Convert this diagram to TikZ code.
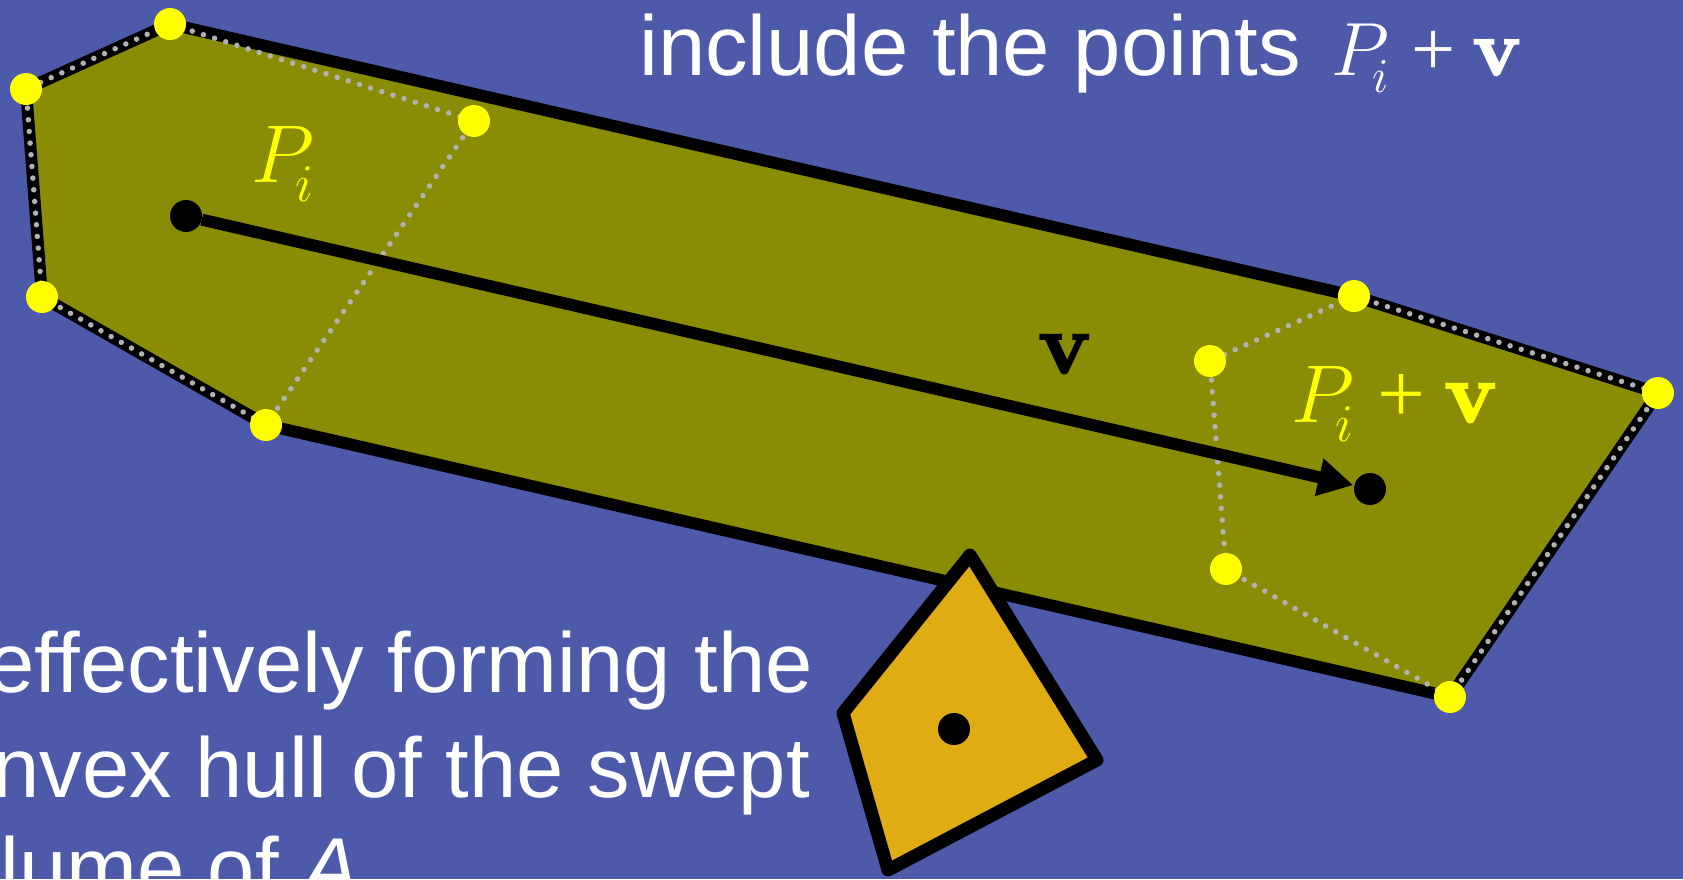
\RequirePackage{fix-cm}
\documentclass[tikz,border=0pt]{standalone}
\usepackage[no-math]{fontspec}
\usepackage{graphicx}
\setmainfont{Liberation Sans}
\newfontfamily\serifplus{Liberation Serif}
\newfontfamily\lmbold{lmroman10-bold.otf}[FakeBold=2.5]
\usetikzlibrary{arrows.meta}
\definecolor{bg}{RGB}{77,90,170}
\definecolor{hullfill}{RGB}{138,140,5}
\definecolor{kitefill}{RGB}{223,172,20}
\definecolor{dotgray}{RGB}{178,178,178}
\definecolor{ptyellow}{RGB}{255,255,0}
\newcommand{\boldv}{{\lmbold\fontsize{86}{90}\selectfont v}}
\newcommand{\Psub}{\mbox{\fontsize{82}{90}\selectfont$P$}\kern-18.5pt\raisebox{-19.5pt}{\fontsize{53}{60}\selectfont$i$}}
\newcommand{\Psubv}{\Psub\kern24pt{\serifplus\fontsize{85}{90}\selectfont+}\kern19pt\boldv}
\begin{document}
\begin{tikzpicture}[x=1pt,y=-1pt,
  hulledge/.style={draw=black, line width=12pt, line join=round, line cap=round},
  graydots/.style={draw=dotgray, line width=5.5pt, line cap=round, dash pattern=on 0pt off 11.7pt},
  vertex/.style={circle, fill=ptyellow, inner sep=0pt, minimum size=32pt},
  cdot/.style={circle, fill=black, inner sep=0pt, minimum size=32pt},
  bigfont/.style={font=\fontsize{85}{100}\selectfont, inner sep=0pt},
  whitetext/.style={bigfont, text=white},
  vecarrow/.style={line width=12pt, shorten >=1pt, -{Triangle[length=35pt,width=36pt]}},
  kiteshape/.style={fill=kitefill, draw=black, line width=13pt, line join=round}
]
\useasboundingbox (0,0) rectangle (1683,879);
\fill[bg] (0,0) rectangle (1683,879);
\clip (0,0) rectangle (1683,879);

% original polygon P
\coordinate (a1) at (170,24);
\coordinate (a2) at (474,121);
\coordinate (a3) at (266,425);
\coordinate (a4) at (42,297);
\coordinate (a5) at (26,89);
% translated polygon P+v
\coordinate (b1) at (1354,296);
\coordinate (b2) at (1658,393);
\coordinate (b3) at (1450,697);
\coordinate (b4) at (1226,569);
\coordinate (b5) at (1210,361);

% convex hull of swept volume
\fill[hullfill] (a1) -- (b1) -- (b2) -- (b3) -- (a3) -- (a4) -- (a5) -- cycle;
\draw[hulledge] (a1) -- (b1) -- (b2) -- (b3) -- (a3) -- (a4) -- (a5) -- cycle;

% dotted outlines of P and P+v
\draw[graydots] (a1) -- (a2) -- (a3) -- (a4) -- (a5) -- cycle;
\draw[graydots] (b1) -- (b2) -- (b3) -- (b4) -- (b5) -- cycle;

% motion vector
\node[cdot] (s) at (186,216) {};
\node[cdot] (e) at (1370,489) {};
\draw[vecarrow] (s) -- (e);

% vertices
\foreach \p in {a1,a2,a3,a4,a5,b1,b2,b3,b4,b5}
  \node[vertex] (v\p) at (\p) {};

% labels
\node[bigfont, text=ptyellow, anchor=base west] (lp) at (251,182) {\Psub};
\node[bigfont, text=ptyellow, anchor=base west] (lpv) at (1291,422) {\Psubv};
\node[bigfont, text=black, anchor=base west] (lv) at (1038,373) {\boldv};

% object A
\coordinate (k1) at (970,555);
\coordinate (k2) at (843,713);
\coordinate (k3) at (888,870);
\coordinate (k4) at (1097,760);
\path[kiteshape] (k1) -- (k2) -- (k3) -- (k4) -- cycle;
\node[cdot] (kc) at (954,729) {};

% texts
\node[whitetext, anchor=base west] (t0) at (639,75) {include the points\kern31pt\scalebox{0.92}{\Psubv}};
\node[whitetext, anchor=base east] (t1) at (813,692) {effectively forming the};
\node[whitetext, anchor=base east] (t2) at (810,797) {nvex hull of the swept};
\node[whitetext, anchor=base west] (t3) at (0,897) {lume of \textit{A}};
\end{tikzpicture}
\end{document}
